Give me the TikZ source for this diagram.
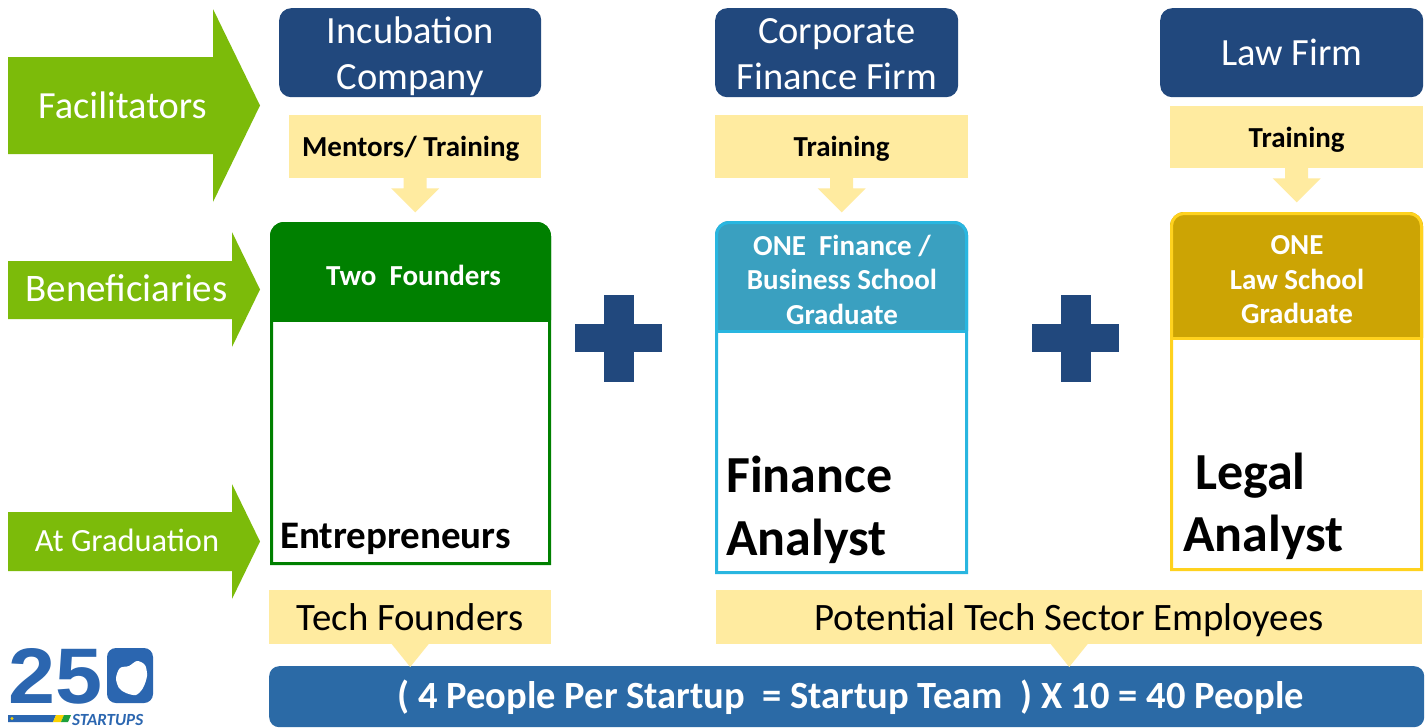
\documentclass[tikz,border=0pt]{standalone}
\usepackage{fontspec}
\usepackage{graphicx}
\setmainfont{Carlito}
\newfontfamily\logofont{Liberation Sans}
\usetikzlibrary{calc}
\definecolor{argreen}{RGB}{124,187,10}
\definecolor{firmblue}{RGB}{33,72,125}
\definecolor{lyellow}{RGB}{255,235,160}
\definecolor{fgreen}{RGB}{0,128,0}
\definecolor{hblue}{RGB}{58,160,192}
\definecolor{bcyan}{RGB}{41,182,224}
\definecolor{hgold}{RGB}{204,164,4}
\definecolor{byellow}{RGB}{255,210,30}
\definecolor{barblue}{RGB}{43,106,166}
\definecolor{logoblue}{RGB}{43,102,176}
\definecolor{flagyellow}{RGB}{250,210,0}
\definecolor{flaggreen}{RGB}{30,160,60}
\newcommand\mylines[1]{\begin{tabular}[t]{@{}c@{}}#1\end{tabular}}
\tikzset{
 lbl/.style={text=white, inner sep=0pt, anchor=base},
 firm/.style={fill=firmblue, rounded corners=12pt, anchor=north west, inner sep=0pt},
 firmtxt/.style={text=white, inner sep=0pt, anchor=base, font=\fontsize{38.5}{46.7}\selectfont},
 note/.style={fill=lyellow, anchor=north west, inner sep=0pt, text height=24pt, text depth=4pt, font=\bfseries\fontsize{29}{34}\selectfont},
 hdr/.style={text=white, anchor=base, inner sep=0pt, font=\bfseries\fontsize{29}{34.5}\selectfont},
 big/.style={font=\bfseries\fontsize{52}{60}\selectfont, anchor=base west, inner sep=0pt},
 outlbl/.style={fill=lyellow, anchor=north west, inner sep=0pt, text height=30pt, text depth=4pt, font=\fontsize{38.8}{44}\selectfont},
}
\newcommand\dnarrow[1]{\fill[lyellow] ($(#1.south)+(-11.5,-1)$) -- ($(#1.south)+(-11.5,10)$) -- ($(#1.south)+(-24,10)$) -- ($(#1.south)+(0,34)$) -- ($(#1.south)+(24,10)$) -- ($(#1.south)+(11.5,10)$) -- ($(#1.south)+(11.5,-1)$) -- cycle;}
\newcommand\benbox[7]{%
 \fill[#6] (#1,#5) -- (#1,#2+14) arc[start angle=180,end angle=270,radius=14] -- (#3-14,#2) arc[start angle=270,end angle=360,radius=14] -- (#3,#5) -- cycle;
 \fill[white] (#1,#5) rectangle (#3,#4);
 \draw[#7,line width=3pt] (#1+1.5,#4-1.5) -- (#1+1.5,#2+14) arc[start angle=180,end angle=270,radius=12.5] -- (#3-14,#2+1.5) arc[start angle=270,end angle=360,radius=12.5] -- (#3-1.5,#4-1.5) -- cycle;
 \draw[#7,line width=3pt] (#1,#5) -- (#3,#5);
}
\begin{document}
\begin{tikzpicture}[x=1pt,y=-1pt]
\useasboundingbox[fill=white] (0,0) rectangle (1428,728);

% green row arrows
\fill[argreen] (8,57) -- (213,57) -- (213,9) -- (260,105.5) -- (213,202) -- (213,154) -- (8,154) -- cycle;
\node[lbl, font=\fontsize{38.4}{44}\selectfont] (fac) at (122.5,118.3) {Facilitators};
\fill[argreen] (8,261) -- (232,261) -- (232,232) -- (260,289.5) -- (232,347) -- (232,319) -- (8,319) -- cycle;
\node[lbl, font=\fontsize{39}{44}\selectfont] (ben) at (126.5,301.7) {Beneficiaries};
\fill[argreen] (8,512) -- (232,512) -- (232,484) -- (260,541.5) -- (232,599) -- (232,571) -- (8,571) -- cycle;
\node[lbl, font=\fontsize{32.4}{38}\selectfont] (grad) at (127,551.7) {At Graduation};

% facilitator firms
\node[firm, minimum width=262pt, minimum height=89pt] (inc) at (279,8) {};
\node[firm, minimum width=243pt, minimum height=89pt] (cff) at (715,8) {};
\node[firm, minimum width=263pt, minimum height=89pt] (law) at (1160,8) {};
\node[firmtxt] (inct) at ($(inc.north)+(0,35)$) {\mylines{Incubation\\Company}};
\node[firmtxt] (cfft) at ($(cff.north)+(0,35)$) {\mylines{Corporate\\Finance Firm}};
\node[firmtxt] (lawt) at ($(law.north)+(0,57)$) {Law Firm};

% training notes
\node[note, minimum width=252pt, minimum height=63pt] (n1) at (289,115) {Mentors/ Training\hspace*{9pt}};
\node[note, minimum width=253pt, minimum height=63pt] (n2) at (715,115) {Training};
\node[note, minimum width=253pt, minimum height=62pt] (n3) at (1170,106) {Training};
\dnarrow{n1}
\dnarrow{n2}
\dnarrow{n3}

% beneficiary boxes
\benbox{270}{222}{551}{565}{320}{fgreen}{fgreen}
\benbox{715}{221}{968}{574}{331}{hblue}{bcyan}
\benbox{1170}{212}{1423}{571}{338}{hgold}{byellow}
\node[hdr] (tf) at (413.5,285) {Two\ \ Founders};
\node[hdr] (ob) at (842,255) {\mylines{ONE\ \ Finance /\\Business School\\Graduate}};
\node[hdr] (ol) at (1297,254.5) {\mylines{ONE\\Law School\\Graduate}};
\node[font=\bfseries\fontsize{39}{44}\selectfont, anchor=base west, inner sep=0pt] (ent) at (280,548) {Entrepreneurs};
\node[big] (fa1) at (726,492.5) {Finance};
\node[big] (fa2) at (726,555) {Analyst};
\node[big] (la1) at (1195,489) {Legal};
\node[big] (la2) at (1183,551.5) {Analyst};

% plus signs
\fill[firmblue] (604,295) rectangle (634,382);
\fill[firmblue] (575,324) rectangle (662,352);
\fill[firmblue] (1061,295) rectangle (1091,382);
\fill[firmblue] (1032,324) rectangle (1119,352);

% outcomes
\node[outlbl, minimum width=282pt, minimum height=54pt] (tfo) at (269,590) {Tech Founders};
\node[outlbl, minimum width=706pt, minimum height=54pt] (pte) at (716,590) {Potential Tech Sector Employees};
\node[fill=barblue, rounded corners=10pt, minimum width=1155pt, minimum height=61pt, anchor=north west, inner sep=0pt, text height=28pt, text depth=4pt, text=white, font=\bfseries\fontsize{38.5}{44}\selectfont] (bar) at (269,666) {\hspace{8pt}( 4 People Per Startup\ \ = Startup Team\ \ ) X 10 = 40 People};
\fill[lyellow] ($(tfo.south)+(-19,-1)$) -- ($(tfo.south)+(19,-1)$) -- ($(tfo.south |- bar.north)+(0,1)$) -- cycle;
\fill[lyellow] ($(pte.south)+(-19,-1)$) -- ($(pte.south)+(19,-1)$) -- ($(pte.south |- bar.north)+(0,1)$) -- cycle;

% logo
\node[anchor=north west, inner sep=0pt, text=logoblue] (l25) at (8,648) {\resizebox{94pt}{55pt}{\logofont\bfseries 25}};
\fill[logoblue, rounded corners=9pt] (107,648) rectangle (153,703);
\fill[white] plot[smooth cycle] coordinates {(116,678) (120,668) (129,666) (137,661) (145,665) (147,676) (143,688) (136,695) (126,693) (119,688)};
\fill[logoblue] (8,715) -- (56,715) -- (53,722) -- (8,722) -- cycle;
\fill[flagyellow] (12,718.5) circle (1.6);
\fill[flagyellow] (56,715) -- (64,715) -- (61,722) -- (53,722) -- cycle;
\fill[flaggreen] (64,715) -- (71,715) -- (68,722) -- (61,722) -- cycle;
\node[anchor=base west, inner sep=0pt, text=logoblue, font=\bfseries\itshape\fontsize{17}{20}\selectfont] (st) at (72,725) {STARTUPS};
\end{tikzpicture}
\end{document}
